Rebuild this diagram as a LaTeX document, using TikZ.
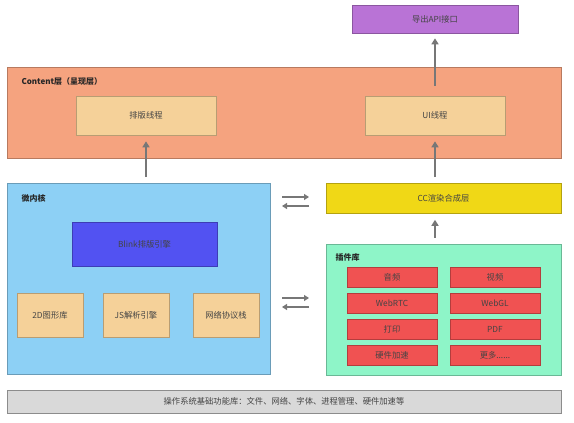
\documentclass[tikz,border=0pt]{standalone}
\usepackage{fontspec}
\setmainfont{Noto Sans CJK SC}
\usetikzlibrary{arrows.meta}

\definecolor{apipurple}{HTML}{B973D6}
\definecolor{contentsalmon}{HTML}{F5A37F}
\definecolor{threadtan}{HTML}{F5D199}
\definecolor{kernelblue}{HTML}{8DD0F5}
\definecolor{blinkblue}{HTML}{5252F2}
\definecolor{ccyellow}{HTML}{F0D816}
\definecolor{pluginmint}{HTML}{8EF5C8}
\definecolor{pluginred}{HTML}{F05252}
\definecolor{osgray}{HTML}{D9D9D9}
\definecolor{arrowgray}{HTML}{777777}
\definecolor{textgray}{HTML}{444444}

\begin{document}
\begin{tikzpicture}[x=1pt, y=-1pt, font=\fontsize{8.3}{10}\selectfont, text=textgray,
    box/.style={draw=#1!75!black, fill=#1, line width=0.6pt, inner sep=0pt},
    arr/.style={draw=arrowgray, line width=2pt, -{Triangle[length=6pt,width=7pt]}},
    swap/.style={draw=arrowgray, line width=1.8pt, -{Triangle[length=5pt,width=6pt]}},
    lbl/.style={anchor=west, font=\fontsize{8}{10}\selectfont\bfseries, text=black!85}]
  \useasboundingbox (0,0) rectangle (574,423);

  % --- top: export API ---
  \node[box=apipurple, minimum width=166, minimum height=28] (api) at (435,19) {导出API接口};

  % --- Content layer ---
  \node[box=contentsalmon, minimum width=554, minimum height=91] (content) at (284,112.5) {};
  \node[lbl] (contentlbl) at (18,81) {Content层（呈现层）};
  \node[box=threadtan, minimum width=140, minimum height=39] (typeset) at (146,115.5) {排版线程};
  \node[box=threadtan, minimum width=140, minimum height=39] (uithread) at (435,115.5) {UI线程};

  % --- micro kernel ---
  \node[box=kernelblue, minimum width=263, minimum height=191] (kernel) at (138.5,279) {};
  \node[lbl] (kernellbl) at (18,198) {微内核};
  \node[box=blinkblue, minimum width=145, minimum height=44] (blink) at (144.5,244) {Blink排版引擎};
  \node[box=threadtan, minimum width=66, minimum height=44] (gfx) at (50,315) {2D图形库};
  \node[box=threadtan, minimum width=66, minimum height=44] (js) at (136,315) {JS解析引擎};
  \node[box=threadtan, minimum width=66, minimum height=44] (net) at (226,315) {网络协议栈};

  % --- CC compositor ---
  \node[box=ccyellow, minimum width=235, minimum height=30] (cc) at (443.5,198.5) {CC渲染合成层};

  % --- plugins ---
  \node[box=pluginmint, minimum width=235, minimum height=131] (plugins) at (443.5,309.5) {};
  \node[lbl] (pluginlbl) at (332,257) {插件库};
  \foreach \name/\txt/\x/\y in {audio/音频/392/277, video/视频/495/277,
                                webrtc/WebRTC/392/303, webgl/WebGL/495/303,
                                print/打印/392/329, pdf/PDF/495/329,
                                hwaccel/硬件加速/392/355, more/{更多......}/495/355}
    \node[box=pluginred, minimum width=90, minimum height=20] (\name) at (\x,\y) {\txt};

  % --- OS base ---
  \node[draw=black!45, fill=osgray, line width=0.6pt, minimum width=554, minimum height=23, inner sep=0pt] (os) at (284,401.5)
    {操作系统基础功能库：文件、网络、字体、进程管理、硬件加速等};

  % --- arrows up ---
  \draw[arr, shorten <=10pt, shorten >=5pt] (uithread.north) -- (api.south);
  \draw[arr, shorten <=6pt, shorten >=6pt] (kernel.north -| typeset.south) -- (typeset.south);
  \draw[arr, shorten <=6pt, shorten >=6pt] (cc.north -| uithread.south) -- (uithread.south);
  \draw[arr, shorten <=6pt, shorten >=6pt] (plugins.north -| uithread.south) -- (cc.south -| uithread.south);

  % --- kernel <-> right side ---
  \coordinate (ccl1) at (282,197);   \coordinate (ccr1) at (309,197);
  \coordinate (ccl2) at (282,206);   \coordinate (ccr2) at (309,206);
  \coordinate (plgl1) at (282,298);  \coordinate (plgr1) at (309,298);
  \coordinate (plgl2) at (282,307);  \coordinate (plgr2) at (309,307);
  \draw[swap] (ccl1) -- (ccr1);
  \draw[swap] (ccr2) -- (ccl2);
  \draw[swap] (plgl1) -- (plgr1);
  \draw[swap] (plgr2) -- (plgl2);
\end{tikzpicture}
\end{document}
